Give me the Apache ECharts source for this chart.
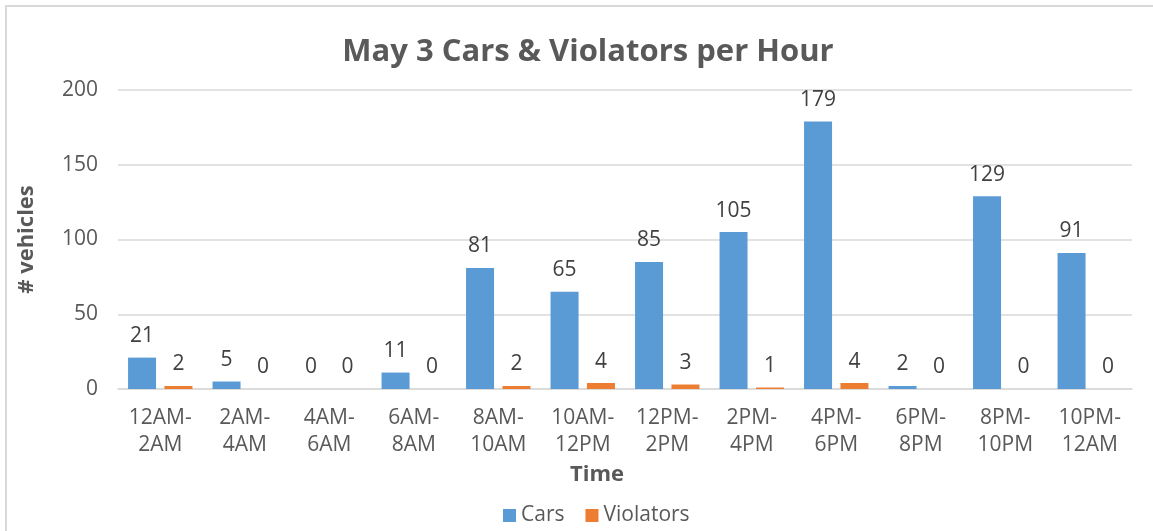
<!DOCTYPE html>
<html>
<head>
<meta charset="utf-8">
<script src="https://cdn.jsdelivr.net/npm/echarts@6/dist/echarts.min.js"></script>
<style>
  html, body { margin: 0; padding: 0; background: #fff; overflow: hidden; }
  #main { width: 1153px; height: 531px; }
  #frame { position: absolute; left: 5px; top: 5px; width: 1160px; height: 540px; border-left: 2px solid #d9d9d9; border-top: 2px solid #d9d9d9; box-sizing: border-box; pointer-events: none; }
</style>
</head>
<body>
<div id="main"></div>
<div id="frame"></div>
<script>
var hours = ['12AM-\n2AM', '2AM-\n4AM', '4AM-\n6AM', '6AM-\n8AM', '8AM-\n10AM', '10AM-\n12PM',
  '12PM-\n2PM', '2PM-\n4PM', '4PM-\n6PM', '6PM-\n8PM', '8PM-\n10PM', '10PM-\n12AM'];
var cars = [21, 5, 0, 11, 81, 65, 85, 105, 179, 2, 129, 91];
var violators = [2, 0, 0, 0, 2, 4, 3, 1, 4, 0, 0, 0];

var font = 'Open Sans';
var chart = echarts.init(document.getElementById('main'));

var labelStyle = {
  show: true,
  position: 'top',
  distance: 11,
  color: '#404040',
  fontFamily: font,
  fontSize: 21
};

var option = {
  backgroundColor: '#ffffff',
  animation: false,
  title: {
    text: 'May 3 Cars & Violators per Hour',
    left: 583,
    textAlign: 'center',
    top: 32,
    textStyle: { color: '#595959', fontFamily: font, fontSize: 31, fontWeight: 'bold' }
  },
  legend: {
    top: 500,
    left: 498,
    itemWidth: 13,
    itemHeight: 13,
    itemGap: 21,
    icon: 'rect',
    textStyle: { color: '#595959', fontFamily: font, fontSize: 21 },
    data: ['Cars', 'Violators']
  },
  grid: { left: 118, right: 21, top: 90, bottom: 142 },
  xAxis: {
    type: 'category',
    data: hours,
    name: 'Time',
    nameLocation: 'middle',
    nameGap: 74,
    nameTextStyle: { color: '#595959', fontFamily: font, fontSize: 22, fontWeight: 'bold', padding: [0, 56, 0, 0] },
    axisLine: { lineStyle: { color: '#d9d9d9', width: 1.5 } },
    axisTick: { show: false },
    axisLabel: { color: '#595959', fontFamily: font, fontSize: 21, lineHeight: 27, margin: 16, interval: 0 }
  },
  yAxis: {
    type: 'value',
    min: 0,
    max: 200,
    interval: 50,
    name: '# vehicles',
    nameLocation: 'middle',
    nameGap: 80,
    nameTextStyle: { color: '#595959', fontFamily: font, fontSize: 22, fontWeight: 'bold' },
    axisLine: { show: false },
    axisTick: { show: false },
    splitLine: { lineStyle: { color: '#d9d9d9', width: 1.5 } },
    axisLabel: { color: '#595959', fontFamily: font, fontSize: 21, margin: 20 }
  },
  series: [
    {
      name: 'Cars',
      type: 'bar',
      data: cars,
      barWidth: 28,
      barGap: '30%',
      itemStyle: { color: '#5b9bd5' },
      label: labelStyle
    },
    {
      name: 'Violators',
      type: 'bar',
      data: violators,
      barWidth: 28,
      itemStyle: { color: '#ed7d31' },
      label: labelStyle
    }
  ]
};

chart.setOption(option);
</script>
</body>
</html>
